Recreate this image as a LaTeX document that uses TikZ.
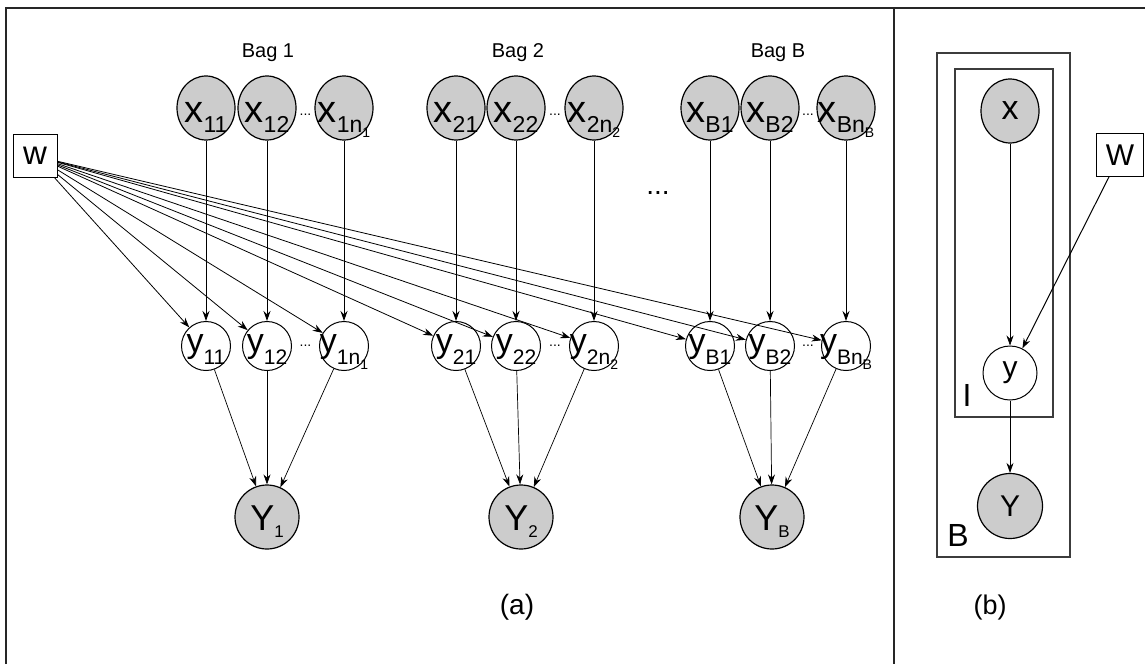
\documentclass[tikz,border=0pt]{standalone}
\usepackage{fontspec}
\setmainfont{Liberation Sans}
\usetikzlibrary{calc,shapes.geometric,arrows.meta}

\definecolor{obsgray}{RGB}{204,204,204}
\definecolor{linegray}{RGB}{60,60,60}

% labels with subscripts, baseline moved below the node centre
\newcommand{\xsub}[2]{\makebox[0pt]{\smash{\raisebox{-14pt}{\fontsize{38}{38}\selectfont #1\raisebox{-10pt}{\fontsize{23}{23}\selectfont #2}}}}}
\newcommand{\ysub}[2]{\makebox[0pt]{\smash{\raisebox{-6pt}{\fontsize{34}{34}\selectfont #1\raisebox{-12pt}{\fontsize{21}{21}\selectfont #2}}}}}
\newcommand{\Ysub}[2]{\makebox[0pt]{\smash{\raisebox{-13pt}{\fontsize{36}{36}\selectfont #1\raisebox{-7pt}{\fontsize{17}{17}\selectfont #2}}}}}
\newcommand{\nsub}[2]{#1\raisebox{-5pt}{\fontsize{14}{14}\selectfont #2}}

\begin{document}
\begin{tikzpicture}[x=1pt,y=-1pt,
  obs/.style={ellipse,draw,fill=obsgray,line width=1.2pt,inner sep=0pt,minimum width=58pt,minimum height=64pt},
  hid/.style={circle,draw,fill=white,line width=1pt,inner sep=0pt,minimum size=49pt},
  bagY/.style={circle,draw,fill=obsgray,line width=1.2pt,inner sep=0pt,minimum size=64pt},
  param/.style={rectangle,draw,fill=white,line width=1pt,inner sep=0pt,minimum width=44pt,minimum height=43pt,font=\fontsize{33}{33}\selectfont},
  plate/.style={draw=linegray,line width=2.5pt},
  dots/.style={inner sep=0pt,font=\fontsize{14}{14}\selectfont},
  >={Stealth[length=10pt,width=7pt]}]
  \useasboundingbox (0,0) rectangle (1145,664);

  % frame
  \draw[line width=1.6pt,black!85] (6,664) -- (6,8) -- (1145,8);
  \draw[line width=1.6pt,black!85] (894,8) -- (894,664);

  % (a)
  \node[font=\fontsize{20}{20}\selectfont] (bag1) at (268,53) {Bag 1};
  \node[font=\fontsize{20}{20}\selectfont] (bag2) at (518,53) {Bag 2};
  \node[font=\fontsize{20}{20}\selectfont] (bagB) at (778,53) {Bag B};

  \node[obs] (x11) at (206,108) {\xsub{x}{11}};
  \node[obs] (x12) at (267,108) {\xsub{x}{12}};
  \node[obs] (x1n) at (344,108) {\xsub{x}{1\nsub{n}{1}}};
  \node[obs] (x21) at (456,108) {\xsub{x}{21}};
  \node[obs] (x22) at (516,108) {\xsub{x}{22}};
  \node[obs] (x2n) at (594,108) {\xsub{x}{2\nsub{n}{2}}};
  \node[obs] (xB1) at (710,108) {\xsub{x}{B1}};
  \node[obs] (xB2) at (770,108) {\xsub{x}{B2}};
  \node[obs] (xBn) at (846,108) {\xsub{x}{B\nsub{n}{B}}};

  \node[hid] (y11) at (206,346) {\ysub{y}{11}};
  \node[hid] (y12) at (267,346) {\ysub{y}{12}};
  \node[hid] (y1n) at (344,346) {\ysub{y}{1\nsub{n}{1}}};
  \node[hid] (y21) at (456,346) {\ysub{y}{21}};
  \node[hid] (y22) at (516,346) {\ysub{y}{22}};
  \node[hid] (y2n) at (594,346) {\ysub{y}{2\nsub{n}{2}}};
  \node[hid] (yB1) at (710,346) {\ysub{y}{B1}};
  \node[hid] (yB2) at (770,346) {\ysub{y}{B2}};
  \node[hid] (yBn) at (846,346) {\ysub{y}{B\nsub{n}{B}}};

  \node[bagY] (Y1) at (267,517) {\Ysub{Y}{1}};
  \node[bagY] (Y2) at (521,517) {\Ysub{Y}{2}};
  \node[bagY] (YB) at (772,517) {\Ysub{Y}{B}};

  \node[param] (w) at (35,156) {w};

  \node[dots] (dx1) at ($(x12)!0.5!(x1n)+(0,7)$) {...};
  \node[dots] (dx2) at ($(x22)!0.5!(x2n)+(0,7)$) {...};
  \node[dots] (dxB) at ($(xB2)!0.5!(xBn)+(0,7)$) {...};
  \node[dots] (dy1) at ($(y12)!0.5!(y1n)$) {...};
  \node[dots] (dy2) at ($(y22)!0.5!(y2n)$) {...};
  \node[dots] (dyB) at ($(yB2)!0.5!(yBn)$) {...};
  \node[inner sep=0pt,font=\fontsize{28}{28}\selectfont] (gap) at (658,193) {...};

  \foreach \n in {11,12,1n,21,22,2n,B1,B2,Bn} {
    \draw[->,line width=1pt] (x\n) -- (y\n);
    \draw[->,line width=0.8pt] (w) -- (y\n);
  }
  \foreach \n in {11,12,1n} \draw[->,line width=0.7pt] (y\n) -- (Y1);
  \foreach \n in {21,22,2n} \draw[->,line width=0.7pt] (y\n) -- (Y2);
  \foreach \n in {B1,B2,Bn} \draw[->,line width=0.7pt] (y\n) -- (YB);

  \node[font=\fontsize{28}{28}\selectfont] (capa) at (517,607) {(a)};

  % (b)
  \draw[plate] (937,53) rectangle (1070,557);
  \draw[plate] (955,69) rectangle (1053,417);

  \node[obs,font=\fontsize{34}{34}\selectfont] (xb) at (1010,111) {x};
  \node[hid,minimum size=54pt,font=\fontsize{30}{30}\selectfont] (yb) at (1010,373) {y};
  \node[bagY,minimum size=65pt,font=\fontsize{30}{30}\selectfont] (Yb) at (1010,506) {Y};
  \node[param,minimum width=47pt,font=\fontsize{30}{30}\selectfont] (Wb) at (1120,155) {W};

  \node[font=\fontsize{32}{32}\selectfont] (plI) at (967,395) {I};
  \node[font=\fontsize{32}{32}\selectfont] (plB) at (958,535) {B};

  \draw[->,line width=0.6pt] (xb) -- (yb);
  \draw[->,line width=1pt] (Wb) -- (yb);
  \draw[->,line width=0.6pt] (yb) -- (Yb);

  \node[font=\fontsize{27}{27}\selectfont] (capb) at (990,608) {(b)};
\end{tikzpicture}
\end{document}
